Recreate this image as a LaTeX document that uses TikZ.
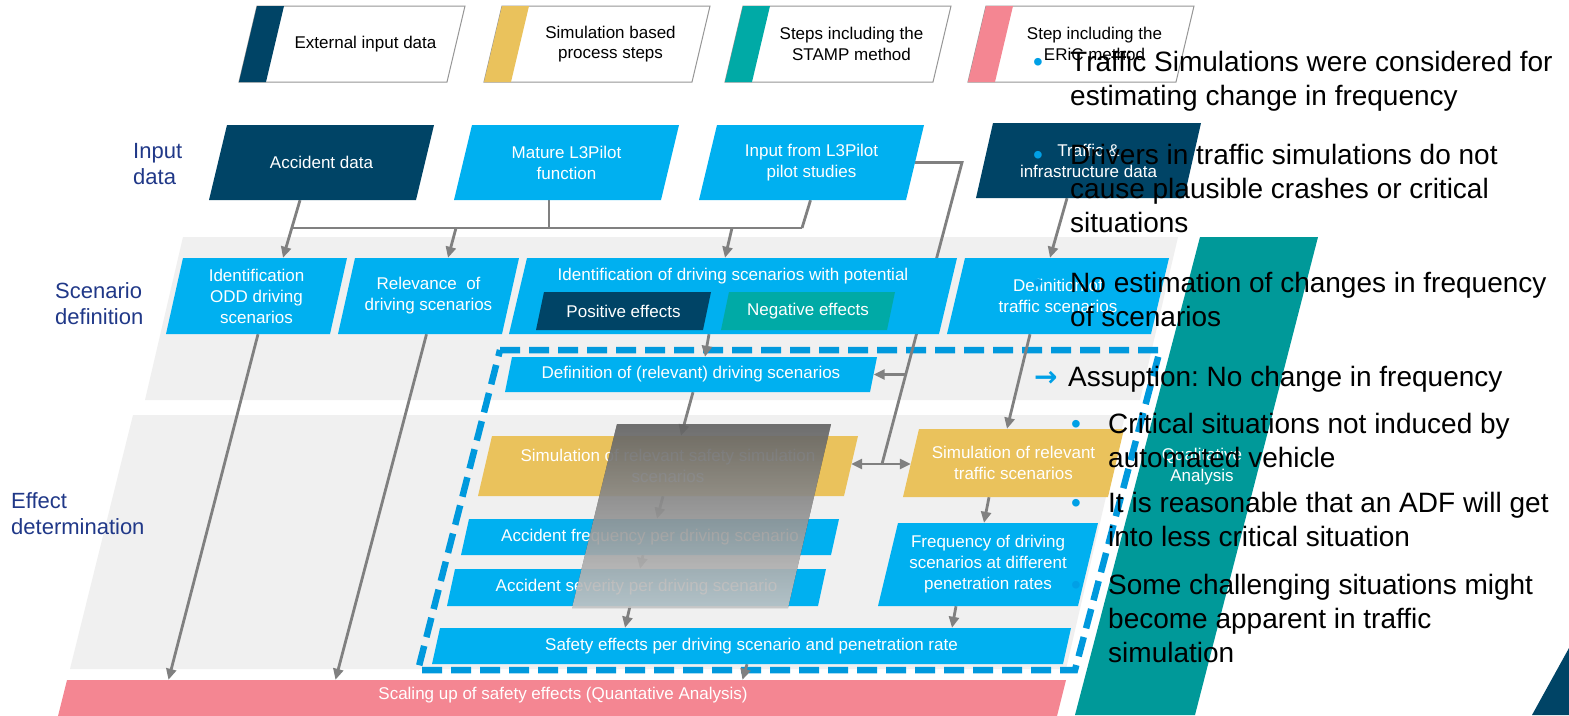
\documentclass[tikz,border=0pt]{standalone}
\usepackage{fontspec}
\setmainfont{Liberation Sans}
\newfontfamily\symfont{DejaVu Sans}
\usetikzlibrary{arrows.meta}
\frenchspacing

\definecolor{boxblue}{RGB}{0,176,240}
\definecolor{navy}{RGB}{0,68,102}
\definecolor{simyellow}{RGB}{234,194,92}
\definecolor{stampteal}{RGB}{0,170,166}
\definecolor{bandteal}{RGB}{0,153,153}
\definecolor{ericpink}{RGB}{244,134,146}
\definecolor{bandgray}{RGB}{240,240,240}
\definecolor{linkgray}{RGB}{128,128,128}
\definecolor{keygray}{RGB}{150,150,150}
\definecolor{rowblue}{RGB}{32,56,136}
\definecolor{dashblue}{RGB}{0,153,221}
\definecolor{bulletblue}{RGB}{0,160,230}
\definecolor{shade}{RGB}{145,145,145}

\pgfdeclarelayer{back}
\pgfdeclarelayer{links}
\pgfdeclarelayer{front}
\pgfsetlayers{back,links,main,front}

\tikzset{
  boxtext/.style={font=\fontsize{17}{21}\selectfont, text=white, align=center, inner sep=0pt},
  legtext/.style={font=\fontsize{17}{20.5}\selectfont, text=black, align=center, inner sep=0pt},
  % multi-line labels are placed by the baseline of their last line
  rowlabel/.style={font=\fontsize{22}{26}\selectfont, text=rowblue, align=left, inner sep=0pt, anchor=base west},
  note/.style={font=\fontsize{28}{34.3}\selectfont, text=black, align=left, inner sep=0pt, anchor=base west},
  bullet/.style={font=\fontsize{28}{34.3}\selectfont, text=bulletblue, inner sep=0pt, anchor=base west},
  arrowsym/.style={font=\symfont\bfseries\fontsize{28}{34.3}\selectfont, text=bulletblue, inner sep=0pt, anchor=base west},
  link/.style={draw=linkgray, line width=2.8pt},
  arr/.style={link, -{Triangle[length=11pt,width=10pt]}},
  darr/.style={link, {Triangle[length=11pt,width=10pt]}-{Triangle[length=11pt,width=10pt]}},
  navyfill/.style={fill=navy},
  bluefill/.style={fill=boxblue},
  yellowfill/.style={fill=simyellow},
  tealfill/.style={fill=stampteal},
}

% slanted process box: fill style, name, top-left x, top-right x, top y, bottom y, slant, text
\newcommand\pbox[8]{%
  \path[#1] (#3,#5) -- (#4,#5) -- ({#4-#7},#6) -- ({#3-#7},#6) -- cycle;
  \pgfmathsetmacro\pbW{#4-#3}%
  \pgfmathsetmacro\pbH{#6-#5}%
  \node[boxtext, minimum width=\pbW pt, minimum height=\pbH pt] (#2) at ({(#3+#4-#7)/2},{(#5+#6)/2}) {#8};
}

% legend box with a coloured stripe: stripe colour, name, top-left x, top-right x, top y, bottom y, text
\newcommand\keybox[7]{%
  \filldraw[fill=white, draw=keygray, line width=1pt] (#3,#5) -- (#4,#5) -- ({#4-18},#6) -- ({#3-18},#6) -- cycle;
  \fill[#1] (#3,#5) -- ({#3+27},#5) -- ({#3+9},#6) -- ({#3-18},#6) -- cycle;
  \node[legtext] (#2) at ({(#3+27+#4-18)/2},{(#5+#6)/2}) {#7};
}

\begin{document}
\begin{tikzpicture}[x=1pt, y=-1pt]
\useasboundingbox (0,0) rectangle (1569,715);

\begin{pgfonlayer}{back}
  \fill[white] (0,0) rectangle (1569,715);
  % phase bands
  \fill[bandgray] (183,237) -- (1178,237) -- (1140,400) -- (145,400) -- cycle;
  \fill[bandgray] (133,415) -- (1125,415) -- (1066,669) -- (70,669) -- cycle;
  % qualitative analysis band and corner shape
  \fill[bandteal] (1200,237) -- (1318,237) -- (1195,715) -- (1075,715) -- cycle;
  \fill[navy] (1569,648) -- (1569,715) -- (1532,715) -- cycle;
  % STAMP frame
  \draw[dashblue, line width=6.5pt, dash pattern=on 20pt off 9pt]
    (500,350) -- (1160,350) -- (1075,670) -- (418,670) -- cycle;
\end{pgfonlayer}

% legend
\keybox{navy}{k1}{257}{465}{6}{82}{External input data}
\keybox{simyellow}{k2}{502}{710}{6}{82}{Simulation based\\process steps}
\keybox{stampteal}{k3}{743}{951}{6}{82}{Steps including the\\STAMP method}
\keybox{ericpink}{k4}{986}{1194}{6}{82}{Step including the\\ERiC method}

% row labels
\node[rowlabel] (lin) at (133,184) {Input\\data};
\node[rowlabel] (lsc) at (55,324) {Scenario\\definition};
\node[rowlabel] (lef) at (11,534) {Effect\\determination};

% input data
\pbox{navyfill}{acc}{227}{434}{125}{200}{18}{Accident data}
\pbox{bluefill}{mat}{472}{679}{125}{200}{18}{Mature L3Pilot\\function}
\pbox{bluefill}{inp}{717}{924}{125}{200}{18}{Input from L3Pilot\\pilot studies}
\pbox{navyfill}{trf}{993}{1201}{123}{198}{17}{Traffic \&\\infrastructure data}

% scenario definition
\pbox{bluefill}{odd}{183}{347}{258}{334}{17}{Identification\\ODD driving\\scenarios}
\pbox{bluefill}{rel}{355}{519}{258}{334}{17}{Relevance\ \ of\\driving scenarios}
\pbox{bluefill}{idp}{527}{957}{258}{334}{18}{}
\node[boxtext] (idpt) at (733,276) {Identification of driving scenarios with potential};
\pbox{navyfill}{pos}{544}{711}{292}{330}{8}{Positive effects}
\pbox{tealfill}{neg}{729}{895}{292}{330}{8}{Negative effects}
\pbox{bluefill}{dtr}{965}{1169}{258}{334}{18}{Definition of\\traffic scenarios}

% effect determination
\pbox{bluefill}{defrel}{512}{877}{357}{392}{7}{Definition of (relevant) driving scenarios}
\pbox{yellowfill}{simsafe}{492}{858}{436}{496}{14}{Simulation of relevant safety simulation\\scenarios}
\pbox{bluefill}{accfreq}{469}{839}{519}{555}{8}{Accident frequency per driving scenario}
\pbox{bluefill}{accsev}{455}{826}{569}{606}{8}{Accident severity per driving scenario}
\pbox{bluefill}{safety}{440}{1071}{628}{664}{8}{Safety effects per driving scenario and penetration rate}
\pbox{yellowfill}{simtrf}{919}{1124}{429}{497}{16}{Simulation of relevant\\traffic scenarios}
\pbox{bluefill}{freq}{898}{1098}{523}{606}{20}{Frequency of driving\\scenarios at different\\penetration rates}

% scaling up
\fill[ericpink] (67,680) -- (1066,680) -- (1057,716) -- (58,716) -- cycle;
\node[boxtext, minimum width=999pt, minimum height=30pt] (scal) at (563,695) {Scaling up of safety effects (Quantative Analysis)};

\node[boxtext] (qual) at (1202,467) {Qualitative\\Analysis};

% junctions of the connectors
\coordinate (jl) at (292,228);
\coordinate (jr) at (456,228);
\coordinate (jm) at (549,228);
\coordinate (jd) at (732,228);
\coordinate (ji) at (802,228);
\coordinate (kink) at (962,162.5);
\coordinate (jv1) at (906,374.5);
\coordinate (jv2) at (882,464);

\begin{pgfonlayer}{links}
  \draw[arr] ([xshift=-21.5pt]acc.south) -- ([xshift=26.5pt]odd.north);
  \draw[link] ([xshift=-17.5pt]mat.south) -- (jm);
  \draw[link] ([xshift=-1pt]inp.south) -- (ji);
  \draw[link] (jl) -- (ji);
  \draw[arr] (jr) -- ([xshift=19.5pt]rel.north);
  \draw[arr] (jd) -- ([xshift=-8pt]idp.north);
  \draw[link] (inp.east) -- (kink) -- (jv2);
  \draw[arr] (jv1) -- (defrel.east);
  \draw[darr] (simsafe.east |- jv2) -- (simtrf.west |- jv2);
  \draw[arr] ([xshift=-21.5pt]trf.south) -- ([xshift=-8pt]dtr.north);
  \draw[arr] ([xshift=-28pt]dtr.south) -- ([xshift=-6.5pt]simtrf.north);
  \draw[arr] ([xshift=-24pt]idp.south) -- ([xshift=14pt]defrel.north);
  \draw[arr] ([xshift=2pt]defrel.south) -- ([xshift=13pt]simsafe.north);
  \draw[arr] ([xshift=-5pt]simsafe.south) -- ([xshift=7pt]accfreq.north);
  \draw[arr] ([xshift=-7pt]accfreq.south) -- ([xshift=3.5pt]accsev.north);
  \draw[arr] ([xshift=-6.5pt]accsev.south) -- ([xshift=-126.5pt]safety.north);
  \draw[arr] ([xshift=-24.5pt]simtrf.south) -- ([xshift=-4pt]freq.north);
  \draw[arr] ([xshift=-32pt]freq.south) -- ([xshift=200.5pt]safety.north);
  \draw[arr] ([xshift=-4.5pt]safety.south) -- ([xshift=179.5pt]scal.north);
  \draw[arr] ([xshift=1.5pt]odd.south) -- ([xshift=-394.5pt]scal.north);
  \draw[arr] ([xshift=-2pt]rel.south) -- ([xshift=-227.5pt]scal.north);
\end{pgfonlayer}

\begin{pgfonlayer}{front}
  % translucent gray panel
  \fill[shade, fill opacity=0.7] (617,424) -- (831,424) -- (788,608) -- (572,608) -- cycle;
  % notes
  \node[bullet] (b1) at (1033,71) {•};
  \node[note] (n1) at (1070,105.3) {Traffic Simulations were considered for\\estimating change in frequency};
  \node[bullet] (b2) at (1033,164) {•};
  \node[note] (n2) at (1070,232.6) {Drivers in traffic simulations do not\\cause plausible crashes or critical\\situations};
  \node[bullet] (b3) at (1033,292) {•};
  \node[note] (n3) at (1070,326.3) {No estimation of changes in frequency\\of scenarios};
  \node[arrowsym] (a4) at (1034,386) {→};
  \node[note] (n4) at (1068,386) {Assuption: No change in frequency};
  \node[bullet] (b5) at (1071,433) {•};
  \node[note] (n5) at (1108,467.3) {Critical situations not induced by\\automated vehicle};
  \node[bullet] (b6) at (1071,512) {•};
  \node[note] (n6) at (1108,546.3) {It is reasonable that an ADF will get\\into less critical situation};
  \node[bullet] (b7) at (1071,594) {•};
  \node[note] (n7) at (1108,662.6) {Some challenging situations might\\become apparent in traffic\\simulation};
\end{pgfonlayer}
\end{tikzpicture}
\end{document}
